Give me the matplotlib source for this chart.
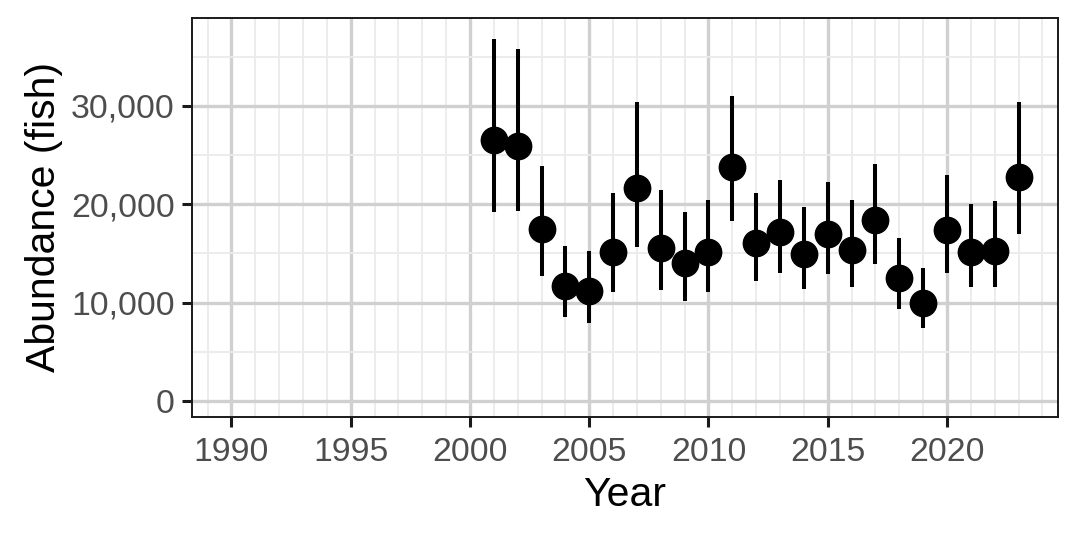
import numpy as np
import matplotlib
matplotlib.use("Agg")
import matplotlib.pyplot as plt
from matplotlib.ticker import MultipleLocator, FuncFormatter

# abundance estimates (fish)
years = [2001, 2002, 2003, 2004, 2005, 2006, 2007, 2008, 2009, 2010, 2011, 2012,
         2013, 2014, 2015, 2016, 2017, 2018, 2019, 2020, 2021, 2022, 2023]
abundance = [26500, 25900, 17500, 11700, 11200, 15200, 21700, 15600, 14000, 15200, 23800, 16100,
             17200, 14900, 17000, 15400, 18400, 12500, 10000, 17400, 15100, 15300, 22800]
lower = [19200, 19300, 12700, 8500, 7900, 11100, 15700, 11300, 10200, 11100, 18300, 12200,
         13000, 11400, 12900, 11600, 13900, 9400, 7400, 13000, 11600, 11600, 17000]
upper = [36800, 35800, 23900, 15800, 15300, 21100, 30400, 21500, 19200, 20400, 31000, 21100,
         22500, 19700, 22300, 20400, 24100, 16600, 13500, 23000, 20000, 20300, 30400]

plt.rcParams['font.family'] = ['Liberation Sans', 'DejaVu Sans']

fig = plt.figure(figsize=(10.8, 5.4), dpi=100)
ax = fig.add_axes([0.1778, 0.2278, 0.9796 - 0.1778, 0.9667 - 0.2278])

ax.vlines(years, lower, upper, color="black", linewidth=2.9, zorder=3)
ax.plot(years, abundance, "o", color="black", markersize=19, zorder=4)

ax.set_xlim(1988.35, 2024.65)
ax.set_ylim(-1630, 38950)

ax.xaxis.set_major_locator(MultipleLocator(5))
ax.xaxis.set_minor_locator(MultipleLocator(1))
ax.yaxis.set_major_locator(MultipleLocator(10000))
ax.yaxis.set_minor_locator(MultipleLocator(5000))
ax.yaxis.set_major_formatter(FuncFormatter(lambda v, p: "{:,.0f}".format(v)))

ax.grid(which="major", color="#d0d0d0", linewidth=2.4, zorder=0)
ax.grid(which="minor", color="#ebebeb", linewidth=1.3, zorder=0)
ax.set_axisbelow(True)

for s in ax.spines.values():
    s.set_color("#1a1a1a")
    s.set_linewidth(1.4)

ax.tick_params(which="major", length=7.5, width=2.2, color="#1a1a1a",
               labelsize=24.3, labelcolor="#4d4d4d", pad=5)
ax.tick_params(axis="x", which="major", pad=7)
ax.tick_params(which="minor", length=0)

ax.set_xlabel("Year", fontsize=29.5, color="black", labelpad=6)
ax.set_ylabel("Abundance (fish)", fontsize=29.5, color="black", labelpad=6)

fig.savefig("out.png", dpi=100)
